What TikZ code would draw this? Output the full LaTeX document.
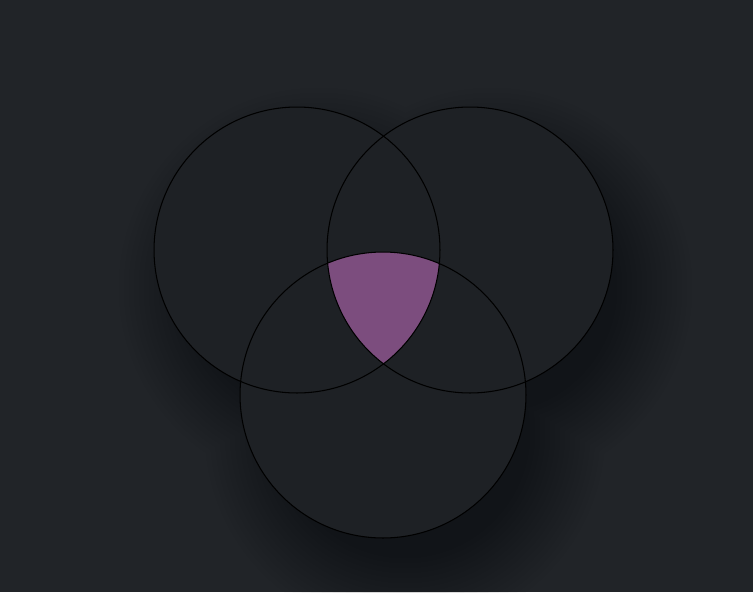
\documentclass[tikz,border=0pt]{standalone}
\usetikzlibrary{positioning}
\definecolor{bgdark}{RGB}{33,36,40}
\definecolor{circlefill}{RGB}{30,33,37}
\definecolor{vennpurple}{RGB}{124,77,126}

\begin{document}
\begin{tikzpicture}[x=0.02cm,y=-0.02cm]
\fill[bgdark] (0,0) rectangle (753,592);
\useasboundingbox (0,0) rectangle (753,592);
\coordinate (ca) at (297,250);
\coordinate (cb) at (470,250);
\coordinate (cc) at (383,395);
% soft shadow
\foreach \k in {0,...,15}{
\begin{scope}[transparency group,opacity=0.02]
\fill[black] ([shift={(22,38)}]ca) circle ({2.5cm+(15-\k)*0.1cm});
\fill[black] ([shift={(22,38)}]cb) circle ({2.5cm+(15-\k)*0.1cm});
\fill[black] ([shift={(22,38)}]cc) circle ({2.5cm+(15-\k)*0.1cm});
\end{scope}
}
\fill[circlefill] (ca) circle (2.86cm) (cb) circle (2.86cm) (cc) circle (2.86cm);
\begin{scope}
\clip (ca) circle (2.86cm);
\clip (cb) circle (2.86cm);
\fill[vennpurple] (cc) circle (2.86cm);
\end{scope}
\draw[black,line width=0.6pt] (ca) circle (2.86cm);
\draw[black,line width=0.6pt] (cb) circle (2.86cm);
\draw[black,line width=0.6pt] (cc) circle (2.86cm);
\end{tikzpicture}
\end{document}
